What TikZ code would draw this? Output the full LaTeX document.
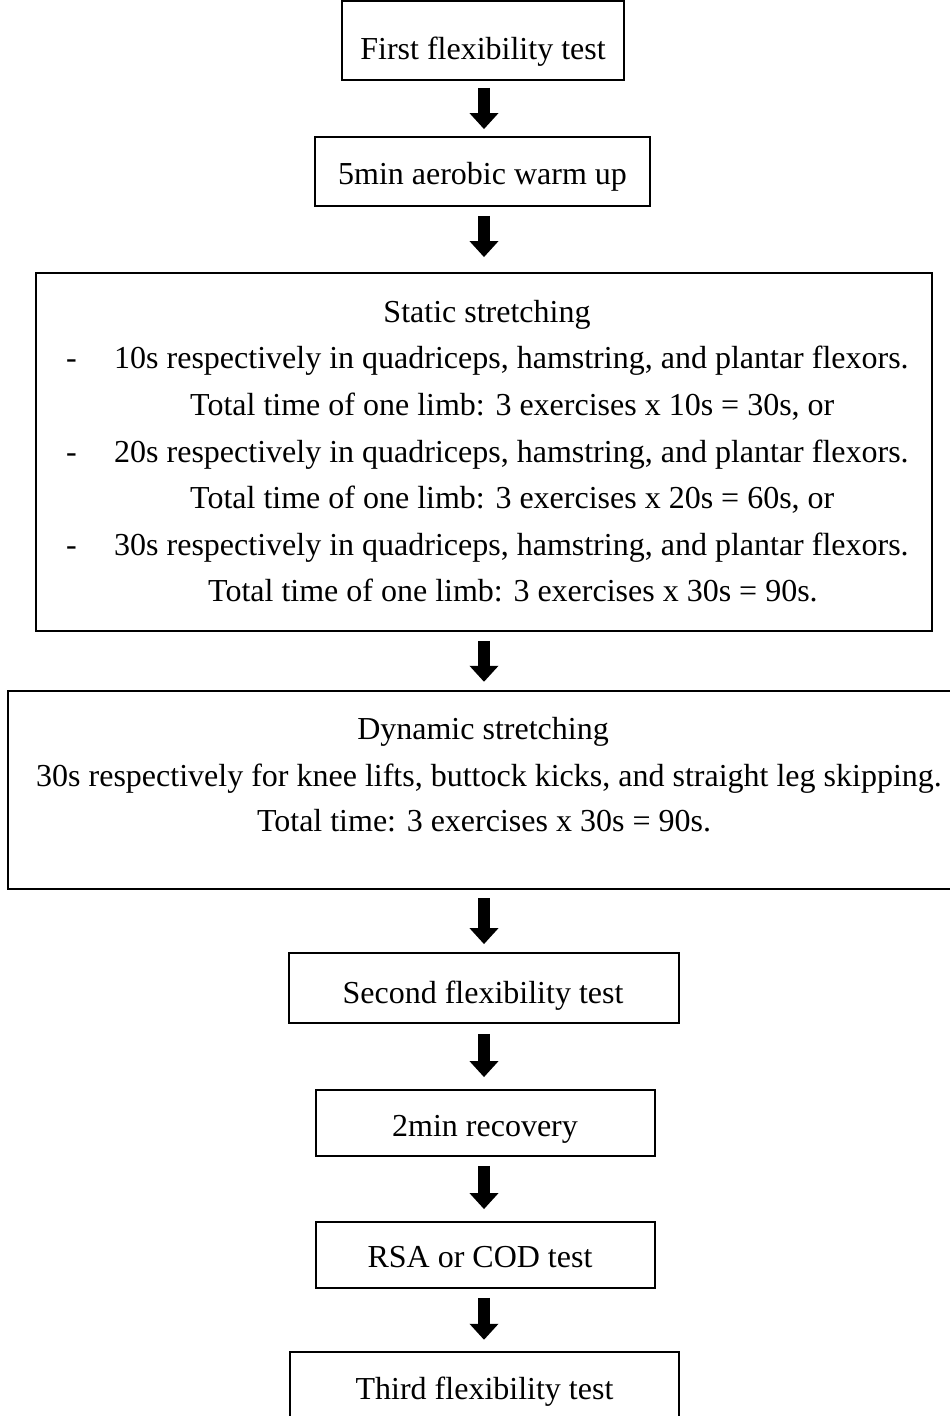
\documentclass[tikz,border=0pt]{standalone}
\usepackage{fontspec}
\setmainfont{Liberation Serif}
\usetikzlibrary{arrows.meta}
\begin{document}
\begin{tikzpicture}[x=1pt,y=-1pt,
  box/.style={draw,line width=1.8pt,minimum width=#1,inner sep=0pt},
  frame/.style={draw=none,inner sep=0pt},
  txt/.style={inner sep=0pt,font=\fontsize{32}{38}\selectfont},
  flow/.style={line width=12pt,-{Triangle[width=28pt,length=16pt]}}]
\useasboundingbox (0,0) rectangle (950,1416);
\coordinate (ax) at (484,0);
% boxes
\node[box=282pt,minimum height=79pt] (b1) at (483,40.5) {};
\node[box=335pt,minimum height=69pt] (b2) at (482.5,171.5) {};
\node[box=896pt,minimum height=358pt] (b3) at (484,452) {};
\node[frame,minimum width=942pt,minimum height=198pt] (b4) at (479,790) {};
\draw[line width=1.8pt] (b4.north east) -- (b4.north west) -- (b4.south west) -- (b4.south east);
\node[box=390pt,minimum height=70pt] (b5) at (484,988) {};
\node[box=339pt,minimum height=66pt] (b6) at (485.5,1123) {};
\node[box=339pt,minimum height=66pt] (b7) at (485.5,1255) {};
\node[frame,minimum width=389pt,minimum height=70pt] (b8) at (484.5,1387) {};
\draw[line width=1.8pt] (b8.south west) -- (b8.north west) -- (b8.north east) -- (b8.south east);
% texts
\node[txt,anchor=base] (t1) at (483,59) {First flexibility test};
\node[txt,anchor=base] (t2) at (482.5,184) {5min aerobic warm up};
\node[txt,anchor=base] (t3) at (487,322) {Static stretching};
\node[txt,anchor=base west] (d1) at (66,368) {-};
\node[txt,anchor=base west] (t31) at (114,368) {10s respectively in quadriceps, hamstring, and plantar flexors.};
\node[txt,anchor=base west] (t32) at (190,415) {Total time of one limb: 3 exercises x 10s = 30s, or};
\node[txt,anchor=base west] (d2) at (66,462) {-};
\node[txt,anchor=base west] (t33) at (114,462) {20s respectively in quadriceps, hamstring, and plantar flexors.};
\node[txt,anchor=base west] (t34) at (190,508) {Total time of one limb: 3 exercises x 20s = 60s, or};
\node[txt,anchor=base west] (d3) at (66,555) {-};
\node[txt,anchor=base west] (t35) at (114,555) {30s respectively in quadriceps, hamstring, and plantar flexors.};
\node[txt,anchor=base west] (t36) at (208,601) {Total time of one limb: 3 exercises x 30s = 90s.};
\node[txt,anchor=base] (t4) at (483,739) {Dynamic stretching};
\node[txt,anchor=base] (t41) at (489,786) {30s respectively for knee lifts, buttock kicks, and straight leg skipping.};
\node[txt,anchor=base] (t42) at (484,831) {Total time: 3 exercises x 30s = 90s.};
\node[txt,anchor=base] (t5) at (483,1003) {Second flexibility test};
\node[txt,anchor=base] (t6) at (485,1136) {2min recovery};
\node[txt,anchor=base] (t7) at (480,1267) {RSA or COD test};
\node[txt,anchor=base] (t8) at (484.5,1399) {Third flexibility test};
% arrows
\draw[flow] ([yshift=-7pt]b1.south -| ax) -- ([yshift=7pt]b2.north -| ax);
\draw[flow] ([yshift=-9pt]b2.south -| ax) -- ([yshift=15pt]b3.north -| ax);
\draw[flow] ([yshift=-9pt]b3.south -| ax) -- ([yshift=9pt]b4.north -| ax);
\draw[flow] ([yshift=-9pt]b4.south -| ax) -- ([yshift=8pt]b5.north -| ax);
\draw[flow] ([yshift=-10pt]b5.south -| ax) -- ([yshift=12pt]b6.north -| ax);
\draw[flow] ([yshift=-9pt]b6.south -| ax) -- ([yshift=12pt]b7.north -| ax);
\draw[flow] ([yshift=-9pt]b7.south -| ax) -- ([yshift=12pt]b8.north -| ax);
\end{tikzpicture}
\end{document}
